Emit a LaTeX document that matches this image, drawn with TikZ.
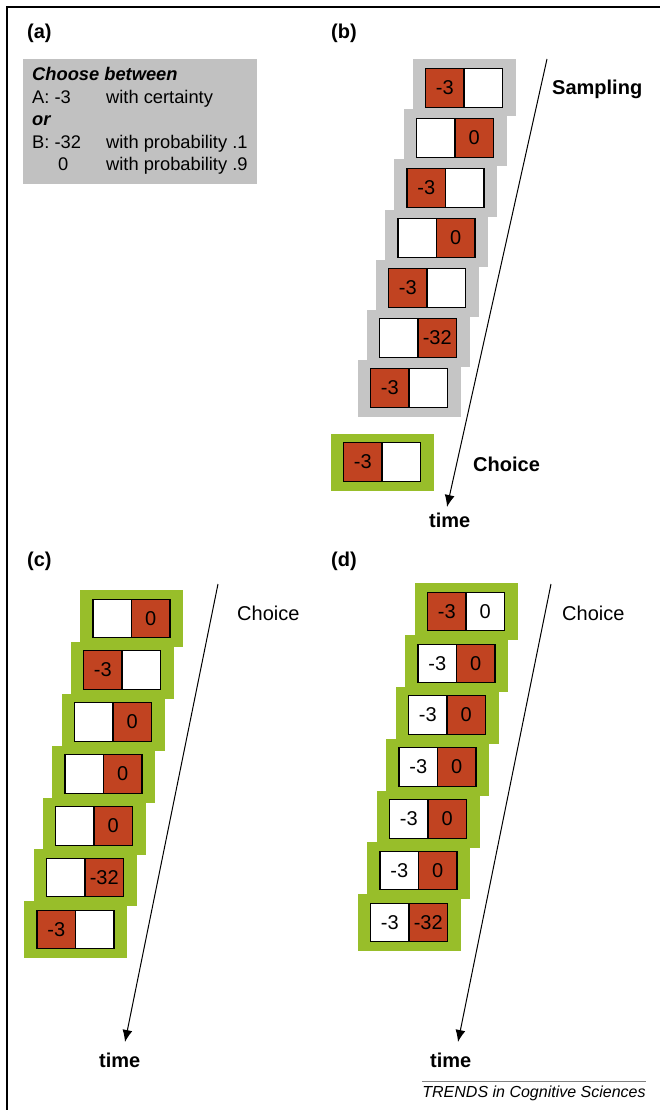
\documentclass[tikz,border=0pt]{standalone}
\usepackage{fontspec}
\setmainfont{Liberation Sans}
\usetikzlibrary{arrows.meta,positioning}
\definecolor{cellred}{RGB}{193,67,33}
\definecolor{framegreen}{RGB}{152,190,42}
\definecolor{framegray}{RGB}{197,197,197}
\definecolor{boxgray}{RGB}{193,193,193}
\begin{document}
\begin{tikzpicture}[x=1pt,y=-1pt,
    grayframe/.style={fill=framegray,minimum width=103pt,minimum height=57pt,inner sep=0pt},
    greenframe/.style={grayframe,fill=framegreen},
    cell/.style={draw,line width=1.2pt,minimum size=38.5pt,inner sep=0pt,outer sep=0pt,
      font=\fontsize{20}{24}\selectfont},
    redcell/.style={cell,fill=cellred},
    whitecell/.style={cell,fill=white},
    panel/.style={font=\fontsize{20}{24}\selectfont\bfseries,anchor=base west,inner sep=0pt},
    plain/.style={panel,font=\fontsize{20}{24}\selectfont},
    timearrow/.style={-{Latex[length=12pt,width=10pt]},line width=1pt}]
      \useasboundingbox (0,0) rectangle (660,1110);
      % Draw frame
      \draw [line width=1.5pt] (660,7) -| (7,1110);

      % (a) the problem
      \node [panel] (lbla) at (27,39) {(a)};
      \node [fill=boxgray,anchor=north west,inner xsep=9pt,inner ysep=6pt,
        font=\fontsize{18.3}{22.5}\selectfont] (abox) at (23,59) {%
        \begin{tabular}{@{}p{74pt}@{}l@{}}
          \multicolumn{2}{@{}l@{}}{\textbf{\textit{Choose between}}}\\
          A: -3 & with certainty\\
          \multicolumn{2}{@{}l@{}}{\textbf{\textit{or}}}\\
          B: -32 & with probability .1\\
          \hspace*{26pt}0 & with probability .9
        \end{tabular}};

      % (b) sampling, then one choice
      \node [panel] (lblb) at (331,39) {(b)};
      \node [grayframe] (b1) at (464,88) {};
      \node [redcell,anchor=east] (b1l) at (b1.center) {-3};
      \node [whitecell,right=0pt of b1l] (b1r) {};
      \node [grayframe] (b2) at (455,138) {};
      \node [whitecell,anchor=east] (b2l) at (b2.center) {};
      \node [redcell,right=0pt of b2l] (b2r) {0};
      \node [grayframe] (b3) at (445.5,188) {};
      \node [redcell,anchor=east] (b3l) at (b3.center) {-3};
      \node [whitecell,right=0pt of b3l] (b3r) {};
      \node [grayframe] (b4) at (436.5,238) {};
      \node [whitecell,anchor=east] (b4l) at (b4.center) {};
      \node [redcell,right=0pt of b4l] (b4r) {0};
      \node [grayframe] (b5) at (427,288) {};
      \node [redcell,anchor=east] (b5l) at (b5.center) {-3};
      \node [whitecell,right=0pt of b5l] (b5r) {};
      \node [grayframe] (b6) at (418,338) {};
      \node [whitecell,anchor=east] (b6l) at (b6.center) {};
      \node [redcell,right=0pt of b6l] (b6r) {-32};
      \node [grayframe] (b7) at (409,388) {};
      \node [redcell,anchor=east] (b7l) at (b7.center) {-3};
      \node [whitecell,right=0pt of b7l] (b7r) {};
      \node [greenframe] (bc) at (382,462) {};
      \node [redcell,anchor=east] (bcl) at (bc.center) {-3};
      \node [whitecell,right=0pt of bcl] (bcr) {};
      \node [panel] (bsamp) at (552,95) {Sampling};
      \node [panel] (bchoice) at (473,471) {Choice};
      \node [panel] (btime) at (429,527) {time};
      \coordinate (btop) at (547,59);
      \coordinate (bend) at (447,507);
      \draw [timearrow] (btop) -- (bend);

      % (c) choices only
      \node [panel] (lblc) at (27,566) {(c)};
      \node [greenframe] (c1) at (131.5,618.5) {};
      \node [whitecell,anchor=east] (c1l) at (c1.center) {};
      \node [redcell,right=0pt of c1l] (c1r) {0};
      \node [greenframe] (c2) at (122,670) {};
      \node [redcell,anchor=east] (c2l) at (c2.center) {-3};
      \node [whitecell,right=0pt of c2l] (c2r) {};
      \node [greenframe] (c3) at (113,722) {};
      \node [whitecell,anchor=east] (c3l) at (c3.center) {};
      \node [redcell,right=0pt of c3l] (c3r) {0};
      \node [greenframe] (c4) at (103.5,774) {};
      \node [whitecell,anchor=east] (c4l) at (c4.center) {};
      \node [redcell,right=0pt of c4l] (c4r) {0};
      \node [greenframe] (c5) at (94,826) {};
      \node [whitecell,anchor=east] (c5l) at (c5.center) {};
      \node [redcell,right=0pt of c5l] (c5r) {0};
      \node [greenframe] (c6) at (85,877.5) {};
      \node [whitecell,anchor=east] (c6l) at (c6.center) {};
      \node [redcell,right=0pt of c6l] (c6r) {-32};
      \node [greenframe] (c7) at (75.5,929.5) {};
      \node [redcell,anchor=east] (c7l) at (c7.center) {-3};
      \node [whitecell,right=0pt of c7l] (c7r) {};
      \node [plain] (cchoice) at (237,620) {Choice};
      \node [panel] (ctime) at (99,1067) {time};
      \coordinate (ctop) at (218,584);
      \coordinate (cend) at (125,1042);
      \draw [timearrow] (ctop) -- (cend);

      % (d) choices, both outcomes shown
      \node [panel] (lbld) at (331,566) {(d)};
      \node [greenframe] (d1) at (466,611.5) {};
      \node [redcell,anchor=east] (d1l) at (d1.center) {-3};
      \node [whitecell,right=0pt of d1l] (d1r) {0};
      \node [greenframe] (d2) at (456.5,663.5) {};
      \node [whitecell,anchor=east] (d2l) at (d2.center) {-3};
      \node [redcell,right=0pt of d2l] (d2r) {0};
      \node [greenframe] (d3) at (447,715) {};
      \node [whitecell,anchor=east] (d3l) at (d3.center) {-3};
      \node [redcell,right=0pt of d3l] (d3r) {0};
      \node [greenframe] (d4) at (437.5,767) {};
      \node [whitecell,anchor=east] (d4l) at (d4.center) {-3};
      \node [redcell,right=0pt of d4l] (d4r) {0};
      \node [greenframe] (d5) at (428,819) {};
      \node [whitecell,anchor=east] (d5l) at (d5.center) {-3};
      \node [redcell,right=0pt of d5l] (d5r) {0};
      \node [greenframe] (d6) at (418.5,870.5) {};
      \node [whitecell,anchor=east] (d6l) at (d6.center) {-3};
      \node [redcell,right=0pt of d6l] (d6r) {0};
      \node [greenframe] (d7) at (409,922.5) {};
      \node [whitecell,anchor=east] (d7l) at (d7.center) {-3};
      \node [redcell,right=0pt of d7l] (d7r) {-32};
      \node [plain] (dchoice) at (562,620) {Choice};
      \node [panel] (dtime) at (430,1067) {time};
      \coordinate (dtop) at (551,584);
      \coordinate (dend) at (458,1042);
      \draw [timearrow] (dtop) -- (dend);

      % journal line
      \node [font=\fontsize{16}{19}\selectfont\itshape,inner xsep=0pt,inner ysep=4pt] (trends)
        at (534,1093) {TRENDS in Cognitive Sciences};
      \draw [gray,line width=1.2pt] (trends.north west) -- (trends.north east);
  \end{tikzpicture}
\end{document}
